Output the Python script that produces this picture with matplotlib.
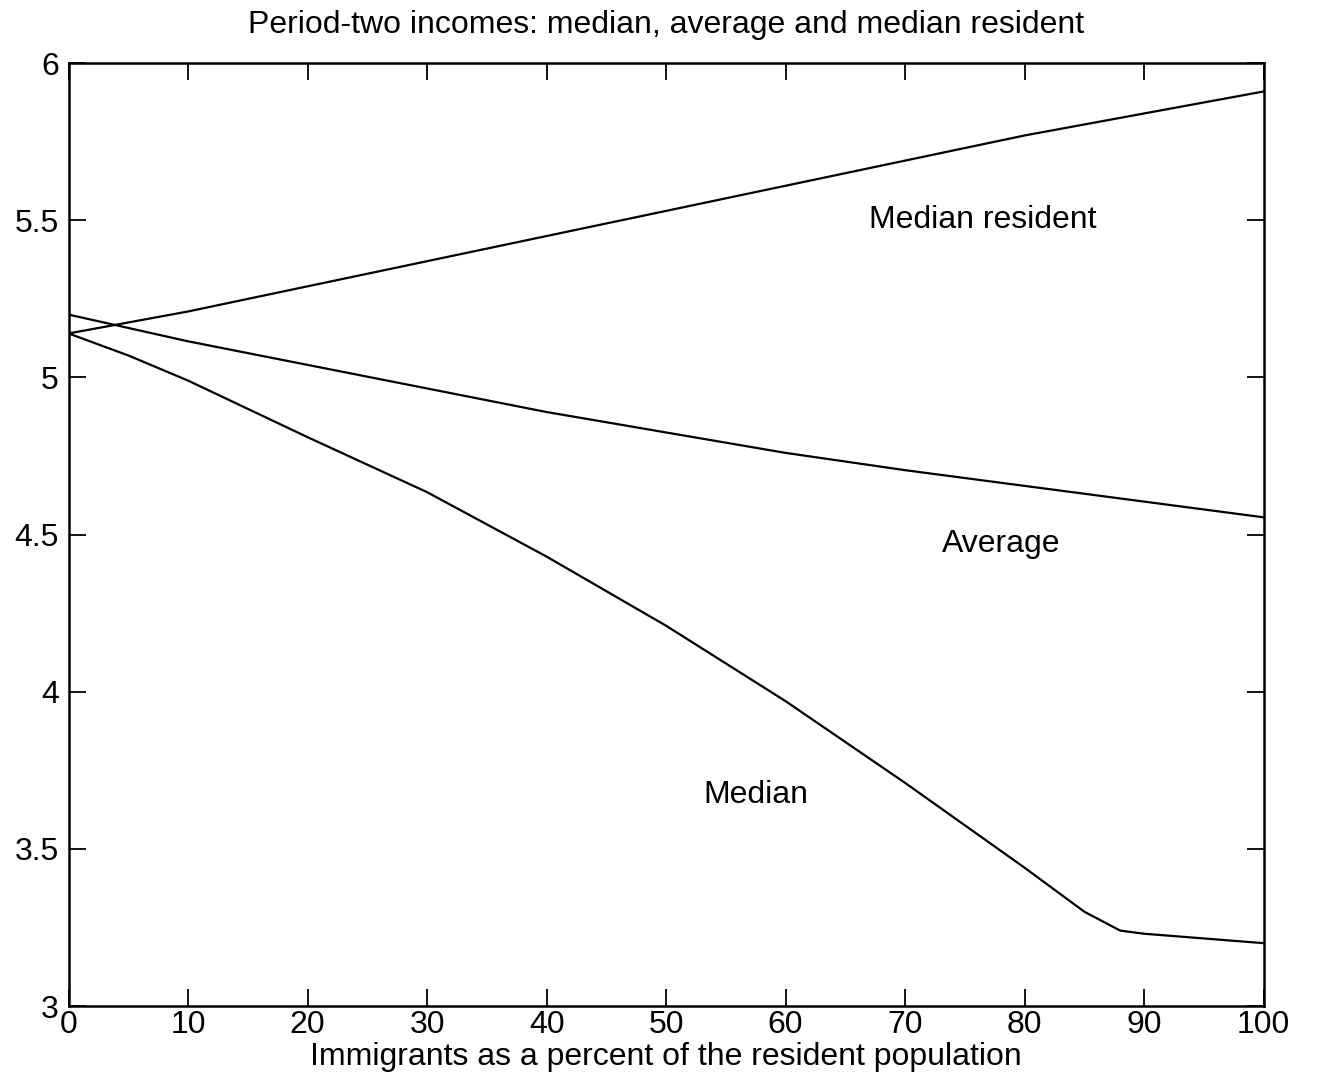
import matplotlib
matplotlib.use("Agg")
import matplotlib.pyplot as plt

plt.rcParams['font.family'] = ['Liberation Sans', 'DejaVu Sans']

x_res = [0, 10, 20, 30, 40, 50, 60, 70, 80, 90, 100]
median_resident = [5.14, 5.21, 5.29, 5.37, 5.45, 5.53, 5.61, 5.69, 5.77, 5.84, 5.91]
average = [5.20, 5.115, 5.04, 4.965, 4.89, 4.825, 4.76, 4.705, 4.655, 4.605, 4.555]
x_med = [0, 5, 10, 20, 30, 40, 50, 60, 70, 80, 85, 88, 90, 100]
median = [5.14, 5.07, 4.99, 4.81, 4.635, 4.43, 4.21, 3.97, 3.71, 3.44, 3.30, 3.24, 3.23, 3.20]

xticks = [0, 10, 20, 30, 40, 50, 60, 70, 80, 90, 100]
yticks = [3, 3.5, 4, 4.5, 5, 5.5, 6]
ytick_labels = ['3', '3.5', '4', '4.5', '5', '5.5', '6']

fig = plt.figure(figsize=(13.19, 10.8), dpi=100)
ax = fig.add_axes([0.052, 0.0685, 0.906, 0.873])
ax.plot(x_res, median_resident, color='black', lw=1.6)
ax.plot(x_res, average, color='black', lw=1.6)
ax.plot(x_med, median, color='black', lw=1.6)

ax.text(76.5, 5.50, 'Median resident', fontsize=23, ha='center', va='center')
ax.text(78, 4.47, 'Average', fontsize=23, ha='center', va='center')
ax.text(57.5, 3.67, 'Median', fontsize=23, ha='center', va='center')

ax.set_xlim(0, 100)
ax.set_ylim(3, 6)
ax.set_xticks(xticks)
ax.set_yticks(yticks)
ax.set_yticklabels(ytick_labels)
ax.tick_params(direction='in', length=12, width=1.3, top=True, right=True, labelsize=23)
ax.tick_params(axis='x', pad=3)
ax.tick_params(axis='y', pad=7)
for s in ax.spines.values():
    s.set_linewidth(1.8)
ax.set_xlabel('Immigrants as a percent of the resident population', fontsize=23, labelpad=1)
ax.set_title('Period-two incomes: median, average and median resident', fontsize=23, pad=22)
fig.savefig('out.png', dpi=100)
